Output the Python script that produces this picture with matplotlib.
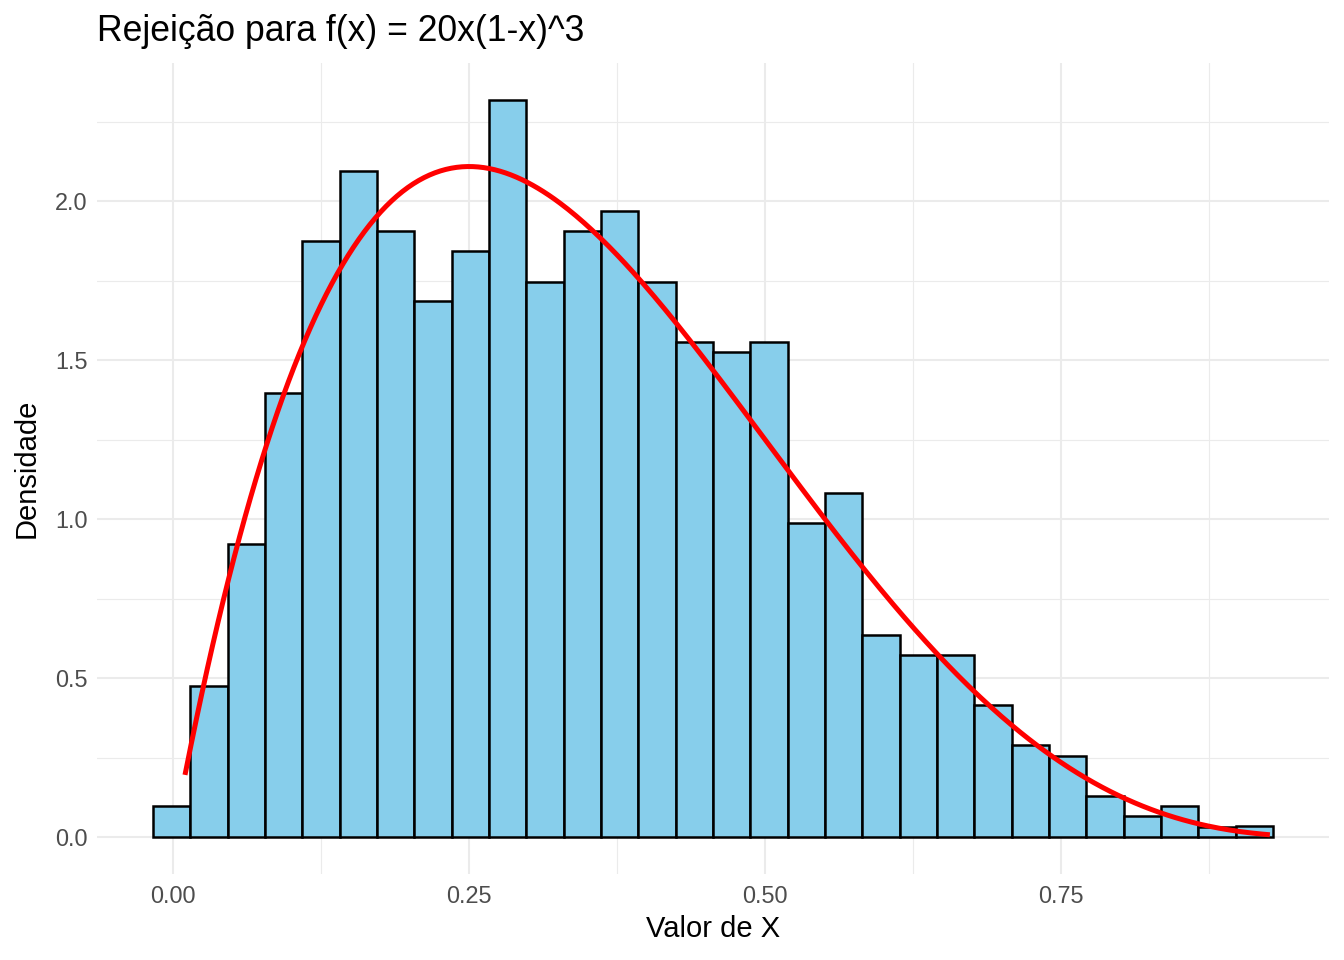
import numpy as np
import matplotlib.pyplot as plt

plt.rcParams['font.family'] = ['Liberation Sans', 'DejaVu Sans']

# histogram bins (30 bins) and densities
bin_left = -0.0169
bin_width = 0.03152
densities = [0.097, 0.475, 0.921, 1.396, 1.874, 2.094, 1.906, 1.686, 1.843, 2.318,
             1.745, 1.906, 1.969, 1.745, 1.557, 1.525, 1.557, 0.987, 1.082, 0.635,
             0.572, 0.572, 0.415, 0.289, 0.255, 0.129, 0.066, 0.097, 0.032, 0.035]
curve_from, curve_to = 0.0105, 0.924
title = 'Rejeição para f(x) = 20x(1-x)^3'
xticks = [0.0, 0.25, 0.5, 0.75]
xtick_labels = ['0.00', '0.25', '0.50', '0.75']
yticks = [0.0, 0.5, 1.0, 1.5, 2.0]

edges = bin_left + bin_width * np.arange(len(densities) + 1)

fig = plt.figure(figsize=(13.44, 9.6), dpi=100)
ax = fig.add_axes([0.0722, 0.0896, 0.9166, 0.8444])

ax.bar(edges[:-1], densities, width=bin_width, align='edge',
       color='#87CEEB', edgecolor='black', linewidth=1.8, zorder=2)

xs = np.linspace(curve_from, curve_to, 400)
ax.plot(xs, 20 * xs * (1 - xs) ** 3, color='red', linewidth=3.6, zorder=3)

xr = edges[-1] - edges[0]
ax.set_xlim(edges[0] - 0.05 * xr, edges[-1] + 0.05 * xr)
ymax = max(densities)
ax.set_ylim(-0.05 * ymax, ymax * 1.05)

ax.set_xticks(xticks)
ax.set_xticklabels(xtick_labels)
ax.set_yticks(yticks)
ax.set_xticks([0.125, 0.375, 0.625, 0.875], minor=True)
ax.set_yticks([0.25, 0.75, 1.25, 1.75, 2.25], minor=True)

ax.grid(which='major', color='#EBEBEB', linewidth=1.5, zorder=0)
ax.grid(which='minor', color='#EBEBEB', linewidth=0.8, zorder=0)
ax.set_axisbelow(True)
for s in ax.spines.values():
    s.set_visible(False)
ax.tick_params(which='both', length=0, labelsize=16.9, colors='#4D4D4D')
ax.tick_params(axis='x', pad=8)
ax.tick_params(axis='y', pad=7)

ax.set_xlabel('Valor de X', fontsize=21, labelpad=5)
ax.set_ylabel('Densidade', fontsize=21, labelpad=10)
ax.set_title(title, fontsize=25.6, loc='left', pad=16)

fig.savefig('out.png', dpi=100)
